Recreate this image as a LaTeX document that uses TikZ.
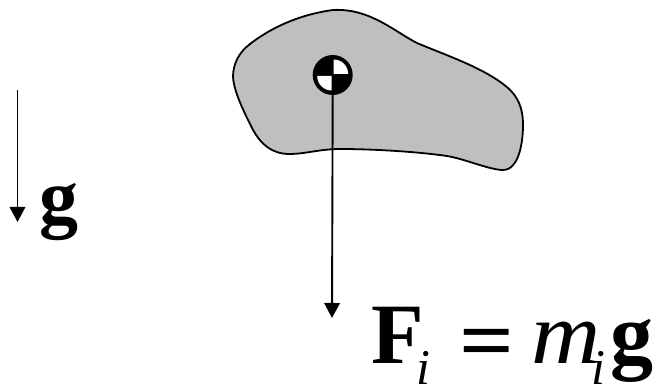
\documentclass[tikz,border=0pt]{standalone}
\usepackage{fontspec}
\usepackage{graphicx}
\setmainfont{Liberation Serif}
\usetikzlibrary{arrows.meta}
\tikzset{
  body/.style={draw=black,fill=black!25,line width=1.8pt},
  cgdisc/.style={circle,fill=black,inner sep=0pt,minimum size=40pt},
  force/.style={draw=black,line width=1.9pt,-{Triangle[length=15pt,width=15.5pt]}},
  label/.style={inner sep=0pt,anchor=base west}
}
\newcommand{\subi}{\raisebox{-21pt}{\fontsize{50pt}{50pt}\selectfont\mdseries\itshape i}}
\begin{document}
\begin{tikzpicture}[x=1pt,y=-1pt]
\useasboundingbox (0,0) rectangle (658,387);
\draw[body] (333,10)
  .. controls (296,15) and (268,30) .. (250,44)
  .. controls (238,53) and (233,65) .. (233,77)
  .. controls (234,92) and (244,112) .. (252,128)
  .. controls (261,145) and (272,154) .. (290,154)
  .. controls (305,154) and (320,149) .. (340,149)
  .. controls (375,149) and (420,152) .. (447,156)
  .. controls (465,159) and (490,170) .. (503,170)
  .. controls (518,170) and (523,145) .. (523,125)
  .. controls (523,108) and (518,97) .. (508,88)
  .. controls (485,68) and (445,55) .. (417,43)
  .. controls (395,32) and (370,8) .. (333,10) -- cycle;
\node[cgdisc] (cg) at (332.7,75) {};
\fill[white] (cg.center) ++(1,-1) -- ++(0,-14.5) arc[start angle=90,end angle=0,radius=14.5pt] -- cycle;
\fill[white] (cg.center) ++(-1,1) -- ++(0,14.5) arc[start angle=270,end angle=180,radius=14.5pt] -- cycle;
\coordinate (ftip) at (332,318);
\draw[force] (cg.south) -- (ftip);
\coordinate (gtop) at (17.5,90);
\coordinate (gtip) at (17.5,222);
\draw[force] (gtop) -- (gtip);
\node[label] (glabel) at (39,224) {\fontsize{78pt}{78pt}\selectfont\bfseries g};
\node[label] (flabel) at (371,363) {\fontsize{86pt}{86pt}\selectfont\bfseries F\hspace{-7pt}\subi\hspace{29pt}\raisebox{-6pt}{\scalebox{1.12}[1]{\fontsize{86pt}{86pt}\selectfont =}}\hspace{17pt}\scalebox{1.09}[1]{\fontsize{88pt}{88pt}\selectfont\mdseries\itshape m}\hspace{-9pt}\subi\hspace{5pt}g};
\end{tikzpicture}
\end{document}
